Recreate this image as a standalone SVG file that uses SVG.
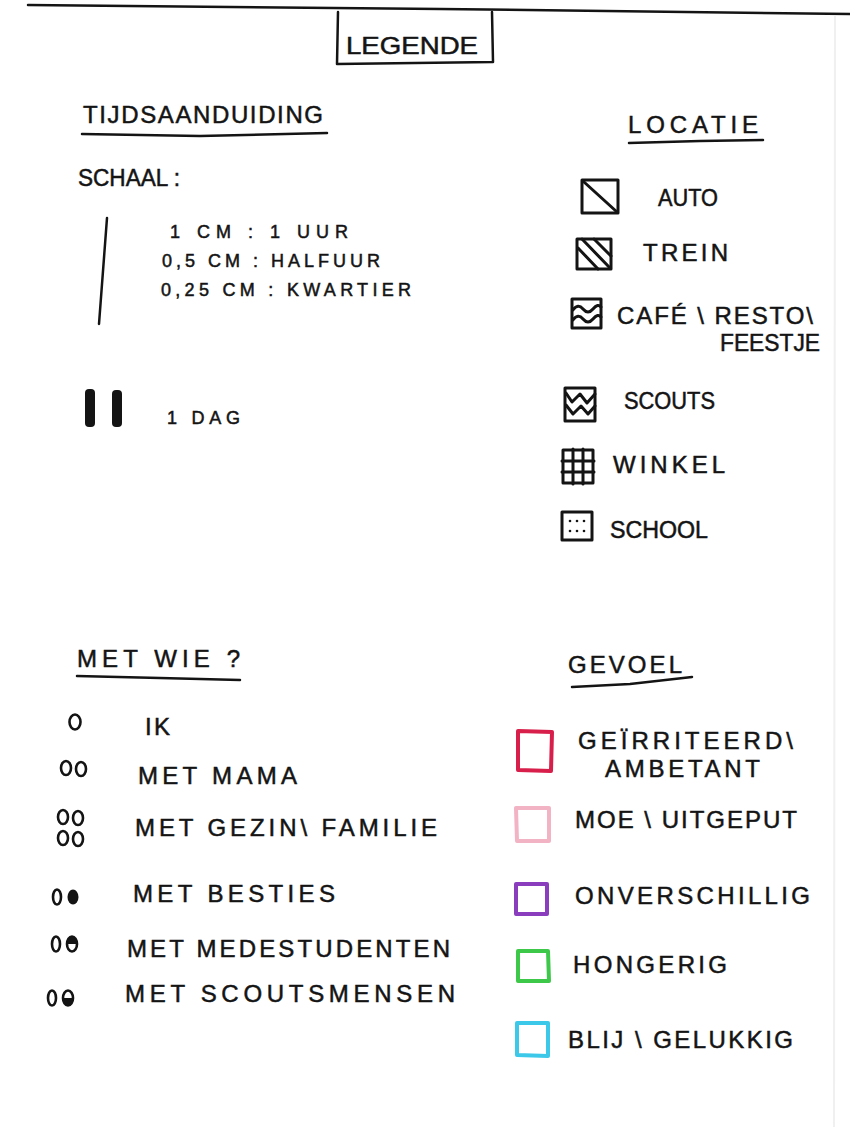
<svg xmlns="http://www.w3.org/2000/svg" width="850" height="1127" viewBox="0 0 850 1127">
<style>
.t{font-family:"Liberation Sans",Arial,sans-serif;fill:#141414;font-size:24px;stroke:#141414;stroke-width:0.5}
.s{font-size:18px}
.n{font-size:23px}
.ln{stroke:#141414;stroke-width:2.5;fill:none;stroke-linecap:round;stroke-linejoin:round}
.ic{stroke:#141414;stroke-width:3;fill:none;stroke-linecap:round;stroke-linejoin:round}
.fb{stroke-width:4;fill:none;stroke-linejoin:round;stroke-linecap:round}
.o{stroke:#141414;stroke-width:2.6;fill:none}
</style>
<rect width="850" height="1127" fill="#fff"/>
<line x1="835" y1="16" x2="834" y2="1127" stroke="#f0f0f0" stroke-width="2"/>
<g id="title">
<path class="ln" d="M28 5 L440 9 L850 14"/>
<path class="ln" d="M338 12 L337 64 L493 62 L492 12"/>
<text class="t" x="346" y="54" font-size="33" textLength="132" lengthAdjust="spacingAndGlyphs">LEGENDE</text>
</g>
<g id="tijdsaanduiding">
<text class="t" x="83" y="123" font-size="25" textLength="240" lengthAdjust="spacing">TIJDSAANDUIDING</text>
<path class="ln" d="M82 134 L200 136 L327 133"/>
<text class="t n" x="78" y="186" textLength="102" lengthAdjust="spacingAndGlyphs">SCHAAL  :</text>
<path class="ln" d="M107 218 L99 324"/>
<text class="t s" x="170" y="238" textLength="178" lengthAdjust="spacing">1 CM :  1 UUR</text>
<text class="t s" x="162" y="267" textLength="218" lengthAdjust="spacing">0,5 CM :  HALFUUR</text>
<text class="t s" x="161" y="296" textLength="250" lengthAdjust="spacing">0,25 CM : KWARTIER</text>
<rect x="85" y="389" width="10" height="38" rx="4" fill="#141414"/>
<rect x="112" y="390" width="10" height="37" rx="4" fill="#141414"/>
<text class="t s" x="167" y="424" textLength="73" lengthAdjust="spacing">1 DAG</text>
</g>
<g id="locatie">
<text class="t" x="628" y="133" font-size="26" textLength="130" lengthAdjust="spacing">LOCATIE</text>
<path class="ln" d="M629 143 L700 141 L763 140"/>
</g>
<g id="loc-auto">
<rect class="ic" x="582" y="180" width="36" height="33"/>
<line class="ic" x1="584" y1="182" x2="617" y2="212"/>
<text class="t n" x="658" y="206" textLength="60" lengthAdjust="spacingAndGlyphs">AUTO</text>
</g>
<g id="loc-trein">
<rect class="ic" x="577" y="239" width="34" height="30"/>
<path class="ic" d="M578 248 L598 269 M582 239 L610 268 M594 239 L611 256"/>
<text class="t" x="643" y="261" textLength="85" lengthAdjust="spacing">TREIN</text>
</g>
<g id="loc-cafe">
<rect class="ic" x="572" y="299" width="29" height="29"/>
<path class="ic" d="M573 310 Q578 303 583 309 T593 309 T601 307 M573 320 Q578 313 583 319 T593 319 T601 317"/>
<text class="t" x="617" y="324" textLength="196" lengthAdjust="spacing">CAFÉ \ RESTO\</text>
<text class="t n" x="720" y="351" textLength="100" lengthAdjust="spacingAndGlyphs">FEESTJE</text>
</g>
<g id="loc-scouts">
<rect class="ic" x="565" y="388" width="30" height="33"/>
<path class="ic" d="M566 393 L572 402 L580 394 L587 403 L595 394 M566 405 L573 414 L581 406 L588 414 L595 406"/>
<text class="t n" x="624" y="409" textLength="91" lengthAdjust="spacingAndGlyphs">SCOUTS</text>
</g>
<g id="loc-winkel">
<rect class="ic" x="563" y="450" width="30" height="33"/>
<path class="ic" d="M573 449 L573 484 M583 449 L583 484 M562 461 L594 461 M562 472 L594 472"/>
<text class="t" x="613" y="473" textLength="112" lengthAdjust="spacing">WINKEL</text>
</g>
<g id="loc-school">
<rect class="ic" x="562" y="512" width="30" height="28"/>
<g fill="#141414"><circle cx="570" cy="521" r="1.3"/><circle cx="577" cy="521" r="1.3"/><circle cx="584" cy="521" r="1.3"/><circle cx="570" cy="531" r="1.3"/><circle cx="577" cy="531" r="1.3"/><circle cx="584" cy="531" r="1.3"/></g>
<text class="t n" x="610" y="538" textLength="98" lengthAdjust="spacingAndGlyphs">SCHOOL</text>
</g>
<g id="metwie">
<text class="t" x="77" y="667" font-size="27" textLength="163" lengthAdjust="spacing">MET  WIE ?</text>
<path class="ln" d="M77 676 L160 678 L240 680"/>
</g>
<g id="wie-ik">
<ellipse class="o" cx="75" cy="722" rx="5.5" ry="7.5"/>
<text class="t" x="145" y="735" textLength="25" lengthAdjust="spacing">IK</text>
</g>
<g id="wie-mama">
<ellipse class="o" cx="66" cy="768" rx="5" ry="7"/><ellipse class="o" cx="81" cy="769" rx="5" ry="7"/>
<text class="t" x="138" y="784" textLength="159" lengthAdjust="spacing">MET  MAMA</text>
</g>
<g id="wie-gezin">
<ellipse class="o" cx="63" cy="817" rx="5" ry="7"/><ellipse class="o" cx="78" cy="818" rx="5" ry="7"/>
<ellipse class="o" cx="63" cy="838" rx="5" ry="7"/><ellipse class="o" cx="78" cy="839" rx="5" ry="7"/>
<text class="t" x="135" y="836" textLength="302" lengthAdjust="spacing">MET  GEZIN\ FAMILIE</text>
</g>
<g id="wie-besties">
<ellipse class="o" cx="57" cy="897" rx="4" ry="7.5"/><ellipse cx="73" cy="897" rx="5.5" ry="7.5" fill="#141414"/>
<text class="t" x="133" y="902" textLength="202" lengthAdjust="spacing">MET  BESTIES</text>
</g>
<g id="wie-medestudenten">
<ellipse class="o" cx="56" cy="944" rx="4" ry="7.5"/><ellipse class="o" cx="72" cy="944" rx="5" ry="7.5"/>
<path d="M67 944 A5 7.5 0 0 1 77 944 Z" fill="#141414"/>
<text class="t" x="127" y="957" textLength="323" lengthAdjust="spacing">MET  MEDESTUDENTEN</text>
</g>
<g id="wie-scoutsmensen">
<ellipse class="o" cx="52" cy="998" rx="4" ry="7.5"/><ellipse class="o" cx="68" cy="998" rx="5" ry="7.5"/>
<path d="M63 998 A5 7.5 0 0 0 73 998 Z" fill="#141414"/>
<text class="t" x="125" y="1002" textLength="330" lengthAdjust="spacing">MET  SCOUTSMENSEN</text>
</g>
<g id="gevoel">
<text class="t" x="568" y="673" font-size="25" textLength="114" lengthAdjust="spacing">GEVOEL</text>
<path class="ln" d="M572 687 L630 684 L692 677"/>
</g>
<g id="gev-geirriteerd">
<path class="fb" stroke="#d81e4a" d="M518 731 L552 732 L551 771 L518 770 Z"/>
<text class="t" x="578" y="749" textLength="215" lengthAdjust="spacing">GEÏRRITEERD\</text>
<text class="t" x="605" y="777" textLength="155" lengthAdjust="spacing">AMBETANT</text>
</g>
<g id="gev-moe">
<path class="fb" stroke="#f2b3c4" d="M516 808 L549 808 L549 841 L517 841 Z"/>
<text class="t" x="575" y="828" textLength="222" lengthAdjust="spacing">MOE \ UITGEPUT</text>
</g>
<g id="gev-onverschillig">
<path class="fb" stroke="#8a3dbd" d="M516 884 L547 884 L547 914 L516 914 Z"/>
<text class="t" x="575" y="904" textLength="235" lengthAdjust="spacing">ONVERSCHILLIG</text>
</g>
<g id="gev-hongerig">
<path class="fb" stroke="#3ec84a" d="M518 951 L548 951 L549 981 L518 981 Z"/>
<text class="t" x="573" y="973" textLength="154" lengthAdjust="spacing">HONGERIG</text>
</g>
<g id="gev-blij">
<path class="fb" stroke="#3cc8e8" d="M517 1023 L548 1023 L548 1056 L517 1055 Z"/>
<text class="t" x="568" y="1048" textLength="225" lengthAdjust="spacing">BLIJ \ GELUKKIG</text>
</g>
</svg>
